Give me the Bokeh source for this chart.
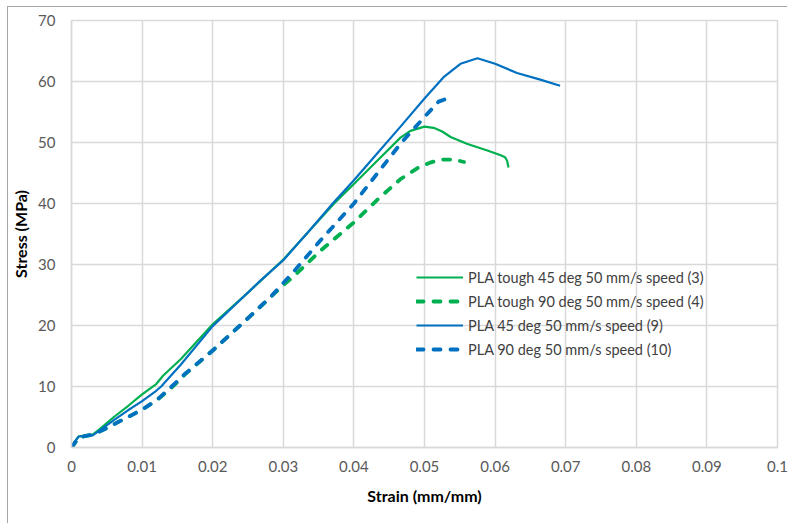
from bokeh.plotting import figure
from bokeh.models import FixedTicker, CustomJSTickFormatter, Legend, LegendItem, Range1d
from bokeh.embed import file_html
from bokeh.resources import INLINE

# ---- data ----
tough45_x = [0, 0.0005, 0.001, 0.002, 0.003, 0.004, 0.006, 0.008, 0.010, 0.012, 0.013, 0.0155,
             0.020, 0.025, 0.030, 0.0335, 0.0372, 0.040, 0.0433, 0.0466, 0.048, 0.050, 0.0513,
             0.0525, 0.0537, 0.056, 0.0589, 0.0608, 0.0614, 0.0617, 0.0619]
tough45_y = [0, 1.0, 1.8, 2.0, 2.1, 3.0, 5.0, 6.8, 8.7, 10.4, 11.8, 14.5,
             20.2, 25.4, 30.8, 35.3, 40.0, 43.2, 47.0, 50.8, 51.9, 52.6, 52.4,
             51.8, 50.9, 49.8, 48.7, 47.9, 47.6, 47.0, 45.9]

tough90_x = [0, 0.001, 0.002, 0.003, 0.005, 0.008, 0.010, 0.012, 0.014, 0.016, 0.020, 0.025,
             0.030, 0.0316, 0.0353, 0.040, 0.0433, 0.0466, 0.049, 0.0508, 0.0523, 0.0542, 0.0556]
tough90_y = [0, 1.6, 1.9, 2.1, 3.2, 5.0, 6.2, 7.7, 9.6, 11.9, 15.9, 21.2,
             26.6, 28.2, 32.3, 36.9, 40.6, 44.0, 45.8, 46.7, 47.2, 47.2, 46.8]

pla45_x = [0, 0.0005, 0.001, 0.002, 0.003, 0.004, 0.006, 0.008, 0.010, 0.012, 0.0127, 0.0155,
           0.020, 0.025, 0.0268, 0.030, 0.0335, 0.037, 0.040, 0.0424, 0.0466, 0.050, 0.0527,
           0.0551, 0.0575, 0.060, 0.0631, 0.0664, 0.0692]
pla45_y = [0, 1.0, 1.8, 1.9, 2.0, 2.8, 4.5, 6.1, 7.6, 9.3, 10.0, 13.6,
           19.9, 25.4, 27.4, 30.7, 35.3, 40.0, 43.8, 47.0, 52.6, 57.2, 60.7,
           62.9, 63.8, 62.9, 61.4, 60.3, 59.3]

pla90_x = [0, 0.001, 0.002, 0.003, 0.005, 0.008, 0.010, 0.012, 0.014, 0.016, 0.020, 0.025,
           0.0283, 0.0316, 0.0353, 0.040, 0.0443, 0.0466, 0.050, 0.052, 0.0532]
pla90_y = [0, 1.6, 1.9, 2.1, 3.2, 5.0, 6.2, 7.7, 9.8, 12.0, 15.9, 21.2,
           24.8, 29.0, 34.0, 40.0, 46.4, 49.8, 54.2, 56.7, 57.2]

series_names = ["PLA tough 45 deg 50 mm/s speed (3)",
                "PLA tough 90 deg 50 mm/s speed (4)",
                "PLA 45 deg 50 mm/s speed (9)",
                "PLA 90 deg 50 mm/s speed (10)"]

x_ticks = [0, 0.01, 0.02, 0.03, 0.04, 0.05, 0.06, 0.07, 0.08, 0.09, 0.1]
y_ticks = [0, 10, 20, 30, 40, 50, 60, 70]

GREEN = "#00B050"
BLUE = "#0070C0"
FONT = "Lato"

p = figure(width=780, height=517, output_backend="svg", toolbar_location=None,
           x_range=Range1d(0, 0.1), y_range=Range1d(0, 70),
           min_border_left=62, min_border_right=11, min_border_top=13, min_border_bottom=77,
           margin=(7, 0, 0, 8))
p.styles = {"box-shadow": "-1px -1px 0 0 #a6a6a6"}
p.background_fill_color = "white"
p.border_fill_color = "white"
p.outline_line_color = "#d9d9d9"
p.outline_line_width = 1.5

for g in (p.xgrid, p.ygrid):
    g.grid_line_color = "#d9d9d9"
    g.grid_line_width = 1.5

p.xaxis.ticker = FixedTicker(ticks=x_ticks)
p.yaxis.ticker = FixedTicker(ticks=y_ticks)
p.xaxis.formatter = CustomJSTickFormatter(
    code="var s = tick.toFixed(2).replace(/0+$/, ''); return s.replace(/\\.$/, '');")

for ax in (p.xaxis, p.yaxis):
    ax.axis_line_color = "#d9d9d9"
    ax.axis_line_width = 1.5
    ax.major_tick_line_color = None
    ax.minor_tick_line_color = None
    ax.major_tick_out = 0
    ax.major_tick_in = 0
    ax.major_label_text_font = FONT
    ax.major_label_text_font_size = "15px"
    ax.major_label_text_color = "#595959"
    ax.axis_label_text_font = FONT
    ax.axis_label_text_font_size = "16px"
    ax.axis_label_text_font_style = "bold"
    ax.axis_label_text_color = "#000000"

p.xaxis.axis_label = "Strain (mm/mm)"
p.yaxis.axis_label = "Stress (MPa)"
p.xaxis.major_label_standoff = 13
p.xaxis.axis_label_standoff = 11
p.yaxis.major_label_standoff = 16
p.yaxis.axis_label_standoff = 5

r1 = p.line(tough45_x, tough45_y, line_color=GREEN, line_width=2.2, line_join="round")
r2 = p.line(tough90_x, tough90_y, line_color=GREEN, line_width=3.8, line_dash="7 10",
            line_cap="round", line_join="round")
r3 = p.line(pla45_x, pla45_y, line_color=BLUE, line_width=2.2, line_join="round")
r4 = p.line(pla90_x, pla90_y, line_color=BLUE, line_width=3.8, line_dash="7 10",
            line_cap="round", line_join="round")

legend = Legend(items=[LegendItem(label=n, renderers=[r]) for n, r in zip(series_names, [r1, r2, r3, r4])],
                location=(345, 88), padding=0, margin=0, spacing=4,
                glyph_width=47, glyph_height=20, label_height=20, label_standoff=5,
                label_text_font=FONT, label_text_font_size="14.5px", label_text_color="#404040",
                border_line_color=None, background_fill_alpha=0)
p.add_layout(legend, "center")

open("out.html", "w").write(file_html(p, INLINE))
